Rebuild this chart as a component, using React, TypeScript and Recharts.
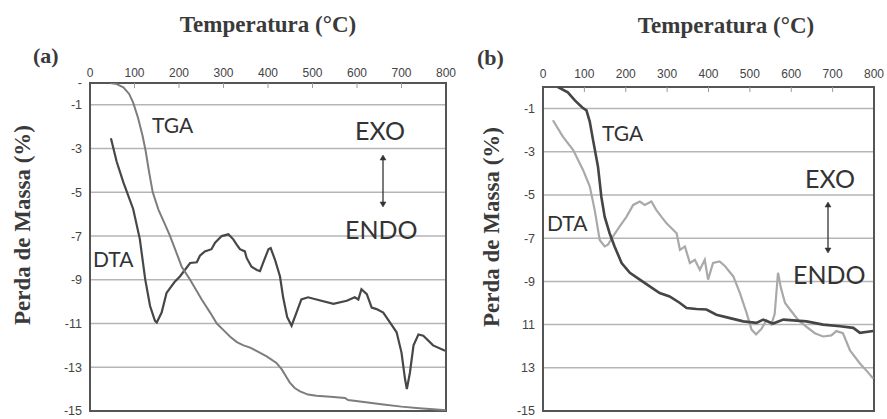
import React from 'react';
import { LineChart, Line, XAxis, YAxis, CartesianGrid, ReferenceArea } from 'recharts';

// ---------- data ----------
const temperatureTicks = [0, 100, 200, 300, 400, 500, 600, 700, 800];
const massTicksA = [-15, -13, -11, -9, -7, -5, -3, -1, 0];
const massTicksB = [-15, -13, -11, -9, -7, -5, -3, -1];
const massLabelsA: Record<string, string> = { '0': '-', '-1': '-1', '-3': '-3', '-5': '-5', '-7': '-7', '-9': '-9', '-11': '-11', '-13': '-13', '-15': '-15' };
const massLabelsB: Record<string, string> = { '-1': '-1', '-3': '-3', '-5': '-5', '-7': '-7', '-9': '-9', '-11': '11', '-13': '13', '-15': '-15' };

// Panel (a) TGA
const tgaA_T = [45, 60, 75, 88, 97, 108, 118, 125, 133, 141, 154, 167, 180, 195, 206, 225, 251, 270, 285, 300, 315, 330, 345, 360, 374, 397, 419, 431, 440, 449, 460, 472, 490, 509, 540, 573, 580, 620, 659, 700, 740, 771, 800];
const tgaA_V = [0, -0.05, -0.2, -0.5, -0.9, -1.6, -2.4, -3.1, -4.1, -5.0, -5.8, -6.4, -7.0, -7.8, -8.4, -9.0, -9.9, -10.5, -11.0, -11.3, -11.6, -11.85, -12.0, -12.1, -12.25, -12.5, -12.8, -13.1, -13.4, -13.7, -13.95, -14.1, -14.25, -14.3, -14.35, -14.4, -14.5, -14.6, -14.7, -14.8, -14.87, -14.92, -14.97];

// Panel (a) DTA
const dtaA_T = [47, 60, 75, 97, 112, 124, 135, 146, 150, 161, 172, 190, 202, 225, 240, 247, 258, 273, 281, 296, 311, 322, 330, 337, 348, 352, 363, 375, 382, 389, 401, 406, 416, 427, 434, 443, 453, 464, 475, 490, 509, 547, 577, 595, 603, 610, 622, 633, 644, 659, 674, 689, 700, 708, 712, 719, 727, 738, 749, 771, 798];
const dtaA_V = [-2.53, -3.6, -4.54, -5.76, -7.14, -8.97, -10.2, -10.88, -10.95, -10.5, -9.6, -9.1, -8.85, -8.23, -8.2, -7.9, -7.7, -7.6, -7.3, -7.0, -6.92, -7.15, -7.4, -7.6, -7.7, -8.0, -8.4, -8.55, -8.6, -8.23, -7.6, -7.55, -8.1, -8.85, -9.8, -10.7, -11.1, -10.5, -9.9, -9.8, -9.9, -10.1, -9.96, -9.8, -9.9, -9.43, -9.66, -10.27, -10.34, -10.5, -10.95, -11.4, -12.33, -13.55, -14.0, -13.24, -12.0, -11.5, -11.56, -12.0, -12.25];

// Panel (b) TGA
const tgaB_T = [36, 60, 77, 95, 105, 113, 121, 133, 141, 149, 161, 173, 190, 210, 234, 258, 282, 306, 331, 347, 371, 395, 419, 452, 484, 516, 532, 556, 581, 637, 677, 718, 750, 766, 798];
const tgaB_V = [0, -0.25, -0.62, -0.95, -1.08, -1.6, -2.46, -3.7, -5.08, -6.0, -6.77, -7.38, -8.15, -8.6, -8.92, -9.23, -9.54, -9.7, -10.0, -10.23, -10.28, -10.3, -10.54, -10.7, -10.85, -10.92, -10.77, -10.95, -10.77, -10.85, -11.0, -11.08, -11.15, -11.38, -11.3];

// Panel (b) DTA
const dtaB_T = [24, 48, 73, 97, 113, 125, 137, 149, 157, 169, 185, 202, 218, 234, 246, 262, 274, 298, 323, 331, 343, 355, 367, 379, 391, 399, 411, 427, 440, 460, 476, 492, 504, 515, 528, 540, 552, 560, 568, 575, 585, 597, 617, 637, 657, 677, 697, 709, 725, 742, 766, 785, 798];
const dtaB_V = [-1.54, -2.3, -2.92, -3.85, -4.6, -5.7, -7.08, -7.38, -7.3, -6.92, -6.46, -6.0, -5.46, -5.3, -5.46, -5.3, -5.7, -6.3, -6.77, -7.54, -7.38, -8.15, -8.0, -8.46, -8.0, -8.92, -8.15, -8.08, -8.3, -8.77, -9.54, -10.46, -11.23, -11.45, -11.2, -10.8, -11.0, -10.5, -8.6, -9.3, -10.0, -10.3, -10.8, -11.1, -11.4, -11.55, -11.5, -11.3, -11.4, -12.2, -12.8, -13.2, -13.5];

const zip = (ts: number[], vs: number[]) => ts.map((t, i) => ({ t, v: vs[i] }));
const tgaA = zip(tgaA_T, tgaA_V);
const dtaA = zip(dtaA_T, dtaA_V);
const tgaB = zip(tgaB_T, tgaB_V);
const dtaB = zip(dtaB_T, dtaB_V);

// ---------- styling ----------
const SANS = '"Liberation Sans", Arial, sans-serif';
const SERIF = '"Liberation Serif", "Times New Roman", serif';
const ANNOT = 'Lato, "Liberation Sans", sans-serif';

const TopTick = (props: any) => {
  const { x, y, payload, plotTop } = props;
  return (
    <g>
      <text x={x} y={y} textAnchor="middle" fontSize={12} fill="#444" fontFamily={SANS}>
        {payload.value}
      </text>
      {payload.value > 0 && payload.value < 800 ? (
        <line x1={x} x2={x} y1={plotTop} y2={plotTop + 5} stroke="#9a9a9a" strokeWidth={1} />
      ) : null}
    </g>
  );
};

interface PanelProps {
  width: number;
  height: number;
  margin: { top: number; right: number; bottom: number; left: number };
  tga: { t: number; v: number }[];
  dta: { t: number; v: number }[];
  tgaColor: string;
  dtaColor: string;
  tgaWidth: number;
  dtaWidth: number;
  yTicks: number[];
  yLabels: Record<string, string>;
  tickSize: number;
  tickMargin: number;
}

const Panel = (p: PanelProps) => (
  <LineChart width={p.width} height={p.height} margin={p.margin}>
    <CartesianGrid vertical={false} stroke="#b5b5b5" strokeWidth={1.5} />
    <XAxis
      dataKey="t"
      type="number"
      domain={[0, 800]}
      ticks={temperatureTicks}
      orientation="top"
      height={30}
      tickSize={p.tickSize}
      tickMargin={p.tickMargin}
      tickLine={false}
      axisLine={false}
      interval={0}
      allowDataOverflow
      tick={<TopTick plotTop={p.margin.top + 30} />}
    />
    <YAxis
      type="number"
      domain={[-15, 0]}
      ticks={p.yTicks}
      width={40}
      tickLine={false}
      axisLine={false}
      interval={0}
      allowDataOverflow
      tick={{ fontSize: 12.5, fill: '#444', fontFamily: SANS }}
      tickFormatter={(v: number) => p.yLabels[String(v)] ?? String(v)}
    />
    <Line data={p.dta} dataKey="v" type="linear" dot={false} stroke={p.dtaColor} strokeWidth={p.dtaWidth} isAnimationActive={false} />
    <Line data={p.tga} dataKey="v" type="linear" dot={false} stroke={p.tgaColor} strokeWidth={p.tgaWidth} isAnimationActive={false} />
    <ReferenceArea x1={0} x2={800} y1={-15} y2={0} fill="none" stroke="#555" strokeWidth={2} />
  </LineChart>
);

const Arrow = ({ x, y1, y2 }: { x: number; y1: number; y2: number }) => (
  <g stroke="#333" fill="#333">
    <line x1={x} x2={x} y1={y1 + 3} y2={y2 - 3} strokeWidth={1.3} />
    <path d={`M${x - 3},${y1 + 5} L${x},${y1} L${x + 3},${y1 + 5} Z`} strokeWidth={0.5} />
    <path d={`M${x - 3},${y2 - 5} L${x},${y2} L${x + 3},${y2 - 5} Z`} strokeWidth={0.5} />
  </g>
);

export default function App() {
  return (
    <div style={{ position: 'absolute', left: 0, top: 0, width: 887, height: 419, background: '#fff', overflow: 'hidden' }}>
      <div style={{ position: 'absolute', left: 0, top: 0 }}>
        <Panel
          width={460}
          height={419}
          margin={{ top: 53, right: 14, bottom: 8, left: 50 }}
          tga={tgaA}
          dta={dtaA}
          tgaColor="#7d7d7d"
          dtaColor="#474747"
          tgaWidth={2}
          dtaWidth={2.2}
          yTicks={massTicksA}
          yLabels={massLabelsA}
          tickSize={4}
          tickMargin={2}
        />
      </div>
      <div style={{ position: 'absolute', left: 460, top: 0 }}>
        <Panel
          width={427}
          height={419}
          margin={{ top: 57, right: 13, bottom: 8, left: 43 }}
          tga={tgaB}
          dta={dtaB}
          tgaColor="#454545"
          dtaColor="#a9a9a9"
          tgaWidth={2.6}
          dtaWidth={2.2}
          yTicks={massTicksB}
          yLabels={massLabelsB}
          tickSize={6}
          tickMargin={3}
        />
      </div>
      <svg width={887} height={419} style={{ position: 'absolute', left: 0, top: 0, pointerEvents: 'none' }}>
        <g fontFamily={SERIF} fontWeight="bold" fill="#3a3a3a">
          <text x={268} y={32} fontSize={23} textAnchor="middle">Temperatura (°C)</text>
          <text x={726} y={33} fontSize={23} textAnchor="middle">Temperatura (°C)</text>
          <text x={33} y={63} fontSize={22}>(a)</text>
          <text x={477} y={65} fontSize={22}>(b)</text>
          <text x={22} y={225} fontSize={23} textAnchor="middle" dominantBaseline="central" transform="rotate(-90 22 225)">Perda de Massa (%)</text>
          <text x={491} y={227} fontSize={23} textAnchor="middle" dominantBaseline="central" transform="rotate(-90 491 227)">Perda de Massa (%)</text>
        </g>
        <g fontFamily={ANNOT} fill="#333">
          <text x={152} y={133} fontSize={21}>TGA</text>
          <text x={93} y={267} fontSize={21}>DTA</text>
          <text x={355} y={140} fontSize={25}>EXO</text>
          <text x={345} y={239} fontSize={25}>ENDO</text>
          <text x={602} y={141} fontSize={21}>TGA</text>
          <text x={547} y={231} fontSize={21}>DTA</text>
          <text x={805} y={188} fontSize={25}>EXO</text>
          <text x={793} y={284} fontSize={25}>ENDO</text>
        </g>
        <Arrow x={383} y1={155} y2={207} />
        <Arrow x={828} y1={202} y2={253} />
      </svg>
    </div>
  );
}
